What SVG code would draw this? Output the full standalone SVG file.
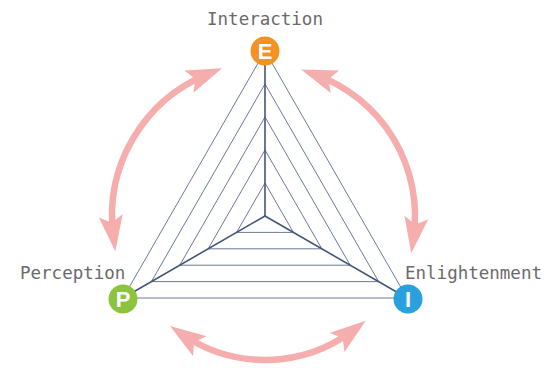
<svg xmlns="http://www.w3.org/2000/svg" width="544" height="368" viewBox="0 0 544 368">
  <style>
    .label { font-family: "DejaVu Sans Mono", "Liberation Mono", monospace; font-size: 17.5px; fill: #6a6a6a; }
    .letter { font-family: "Liberation Sans", Arial, sans-serif; font-size: 22px; font-weight: bold; fill: #ffffff; text-anchor: middle; }
    .ring { fill: none; stroke: #6d7a96; stroke-width: 1; stroke-linejoin: miter; }
    .spoke { stroke: #44557a; stroke-width: 1.6; stroke-linecap: round; }
    .cycle { fill: none; stroke: #f6adad; stroke-width: 6.5; }
  </style>
  <defs>
    <marker id="head" viewBox="0 0 36 24" markerUnits="userSpaceOnUse" markerWidth="36" markerHeight="24" refX="20" refY="12" orient="auto-start-reverse">
      <path d="M0,0 L36,12 L0,24 L7,12 Z" fill="#f6adad"/>
    </marker>
  </defs>

  <rect width="544" height="368" fill="#ffffff"/>

  <!-- curved double-headed arrows around the triangle -->
  <g id="cycle-arrows">
    <path class="cycle" d="M207.4,74.2 A153,153 0 0 0 113.3,235.7" marker-start="url(#head)" marker-end="url(#head)"/>
    <path class="cycle" d="M316.1,75 A150,150 0 0 1 413.5,237.4" marker-start="url(#head)" marker-end="url(#head)"/>
    <path class="cycle" d="M183.2,334.9 A146,146 0 0 0 353.1,330.4" marker-start="url(#head)" marker-end="url(#head)"/>
  </g>

  <!-- nested triangles scaled about the centre (265,216) -->
  <g id="web">
    <polygon class="ring" points="265,183 236.6,232.4 293.4,232.4"/>
    <polygon class="ring" points="265,150 208.2,248.8 321.8,248.8"/>
    <polygon class="ring" points="265,117 179.8,265.2 350.2,265.2"/>
    <polygon class="ring" points="265,84 151.4,281.6 378.6,281.6"/>
    <polygon class="ring" points="265,51 123,298 407,298"/>
  </g>

  <!-- spokes from the centre to each vertex -->
  <g id="connectors">
    <line class="spoke" x1="265" y1="216" x2="265" y2="51"/>
    <line class="spoke" x1="265" y1="216" x2="123" y2="298"/>
    <line class="spoke" x1="265" y1="216" x2="407" y2="298"/>
  </g>

  <g id="node-interaction">
    <circle cx="265" cy="51" r="14.5" fill="#f39221"/>
    <text class="letter" x="265" y="59">E</text>
    <text class="label" x="265" y="25" text-anchor="middle">Interaction</text>
  </g>

  <g id="node-perception">
    <circle cx="123" cy="299" r="14.5" fill="#8cc43f"/>
    <text class="letter" x="123" y="307">P</text>
    <text class="label" x="20" y="279">Perception</text>
  </g>

  <g id="node-enlightenment">
    <circle cx="408" cy="299" r="14.5" fill="#2aa1df"/>
    <text class="letter" x="408" y="307">I</text>
    <text class="label" x="405" y="279">Enlightenment</text>
  </g>
</svg>
